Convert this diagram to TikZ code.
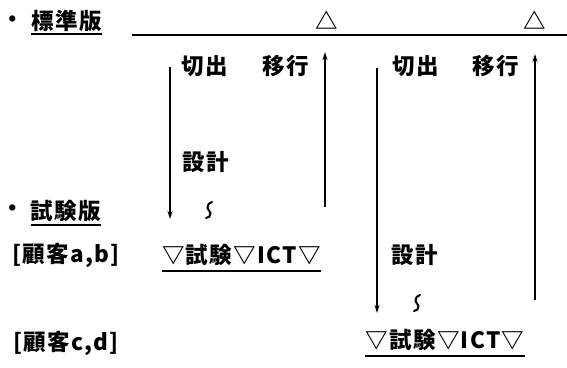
\documentclass[tikz,border=0pt]{standalone}
\usepackage{fontspec}
\newfontfamily\jp[LetterSpace=6]{Noto Sans CJK JP}
\usetikzlibrary{arrows.meta,calc}
\tikzset{
  lbl/.style={inner sep=0pt, font=\jp\bfseries\fontsize{22.5}{24}\selectfont},
  flow/.style={line width=1.3pt, -{Stealth[length=8pt,width=5pt]}},
  uline/.style={line width=2pt},
  rule/.style={line width=1.5pt},
  squig/.style={line width=2pt, line cap=round}
}
\begin{document}
\begin{tikzpicture}[x=1pt,y=-1pt]
\useasboundingbox (0,0) rectangle (567,367);
% headings
\node[lbl] (b1) at (13,22) {・};
\node[lbl] (std) at (66.5,21) {標準版};
\draw[uline] (std.south west) ++(0,2) coordinate (u1a) -- (std.south east |- u1a);
\coordinate (ls) at (132,35);
\coordinate (le) at (567,35);
\draw[rule] (ls) -- (le);
\node[lbl] (t1) at (327,20) {△};
\node[lbl] (t2) at (535,20) {△};

% first column
\node[lbl] (cut1) at (205,66) {切出};
\node[lbl] (mig1) at (286,66) {移行};
\node[lbl] (des1) at (206,162) {設計};
\coordinate (d1s) at (170,67);
\coordinate (d1e) at (170,219);
\coordinate (u1s) at (325,207);
\coordinate (u1e) at (325,52);
\draw[flow] (d1s) -- (d1e);
\draw[flow] (u1s) -- (u1e);
\coordinate (s1) at (209,210);
\draw[squig] ($(s1)+(3,-8)$) .. controls +(-3,0) and +(0,-3) .. ($(s1)+(-1.5,-2)$) .. controls +(0,3) and +(0,-3) .. ($(s1)+(1.5,3)$) .. controls +(0,3) and +(3,0) .. ($(s1)+(-3,8)$);

% trial version
\node[lbl] (b2) at (13,211) {・};
\node[lbl] (trial) at (66,211) {試験版};
\draw[uline] (trial.south west) ++(0,3) coordinate (u2a) -- (trial.south east |- u2a);

\node[lbl] (cab) at (66,255) {[顧客a,b]};
\node[lbl] (ev1) at (241.5,255) {▽試験▽ICT▽};
\draw[uline] (ev1.south west) ++(0,5) coordinate (u3a) -- (ev1.south east |- u3a);

% second column
\node[lbl] (cut2) at (416,66) {切出};
\node[lbl] (mig2) at (496,66) {移行};
\node[lbl] (des2) at (415,255) {設計};
\coordinate (d2s) at (377,68);
\coordinate (d2e) at (377,313);
\coordinate (u2s) at (535,300);
\coordinate (u2e) at (535,54);
\draw[flow] (d2s) -- (d2e);
\draw[flow] (u2s) -- (u2e);
\coordinate (s2) at (417,303);
\draw[squig] ($(s2)+(3,-8)$) .. controls +(-3,0) and +(0,-3) .. ($(s2)+(-1.5,-2)$) .. controls +(0,3) and +(0,-3) .. ($(s2)+(1.5,3)$) .. controls +(0,3) and +(3,0) .. ($(s2)+(-3,8)$);

\node[lbl] (ccd) at (66,343) {[顧客c,d]};
\node[lbl] (ev2) at (445,340) {▽試験▽ICT▽};
\draw[uline] (ev2.south west) ++(0,5) coordinate (u4a) -- (ev2.south east |- u4a);
\end{tikzpicture}
\end{document}
